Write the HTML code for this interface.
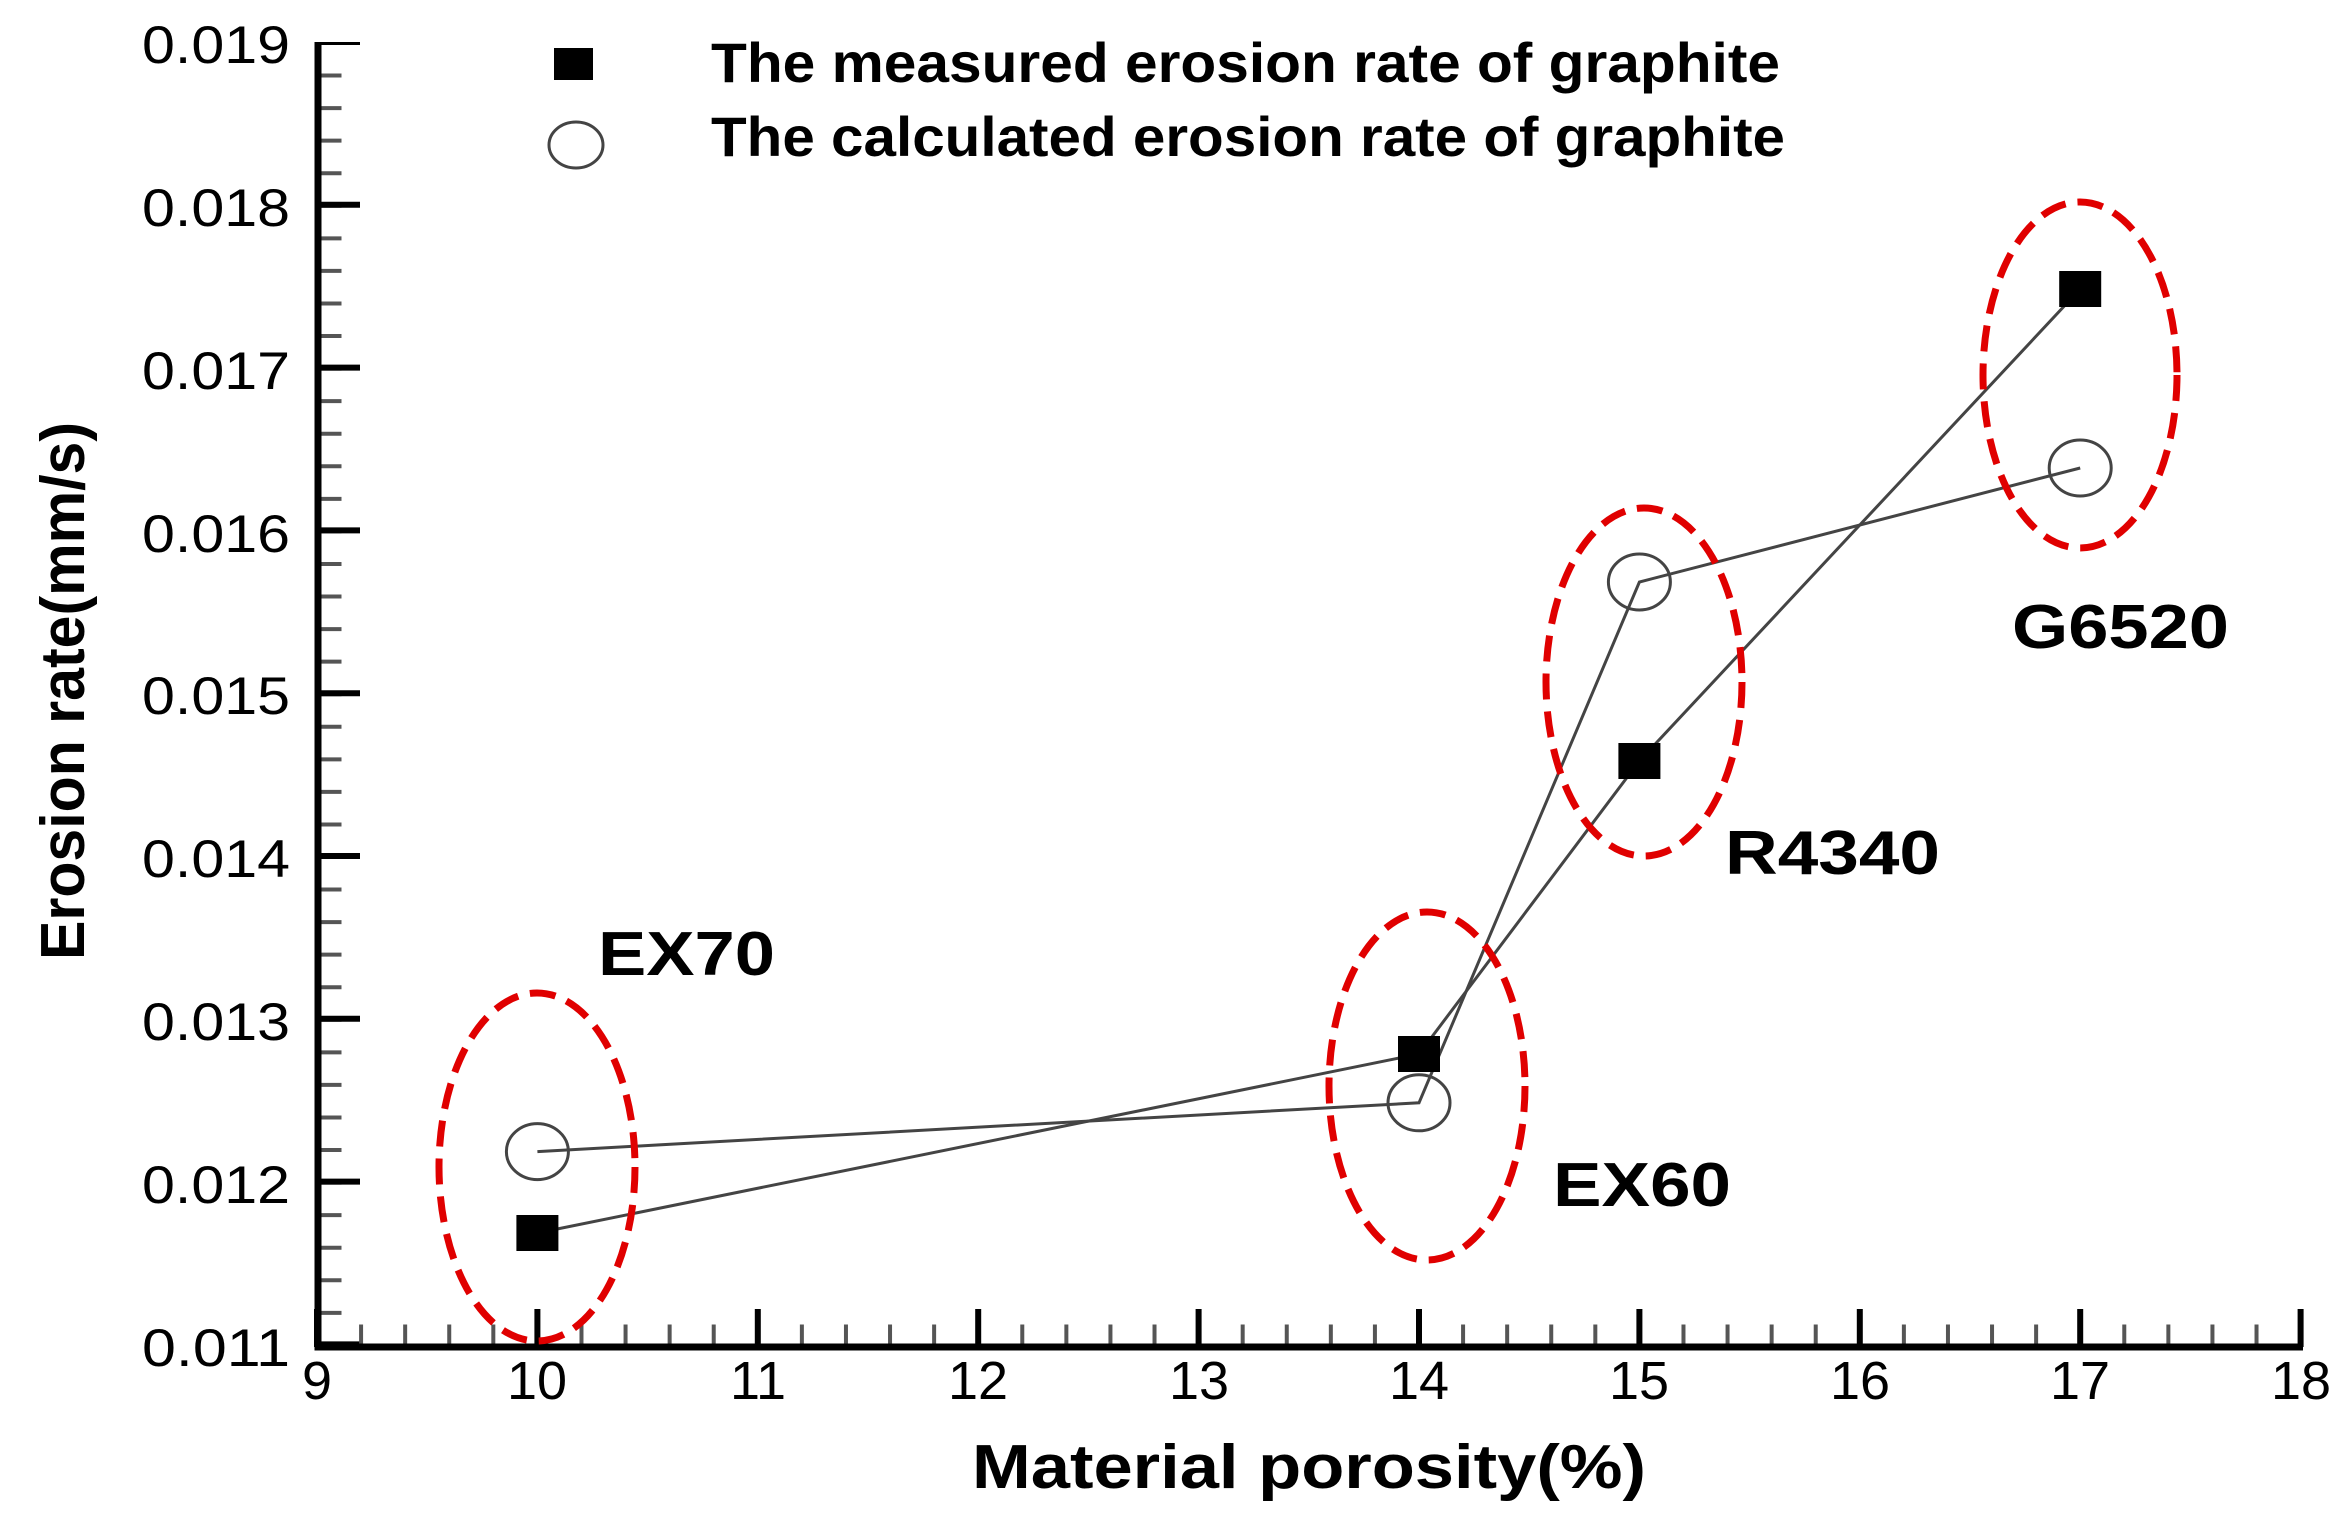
<!DOCTYPE html>
<html><head><meta charset="utf-8"><style>
html,body{margin:0;padding:0;background:#fff;}
svg{display:block;}
text{font-family:"Liberation Sans",Arial,sans-serif;}
</style></head><body>
<svg width="2346" height="1535" viewBox="0 0 2346 1535" xmlns="http://www.w3.org/2000/svg">
<rect width="2346" height="1535" fill="#fff"/>
<line x1="330" y1="43" x2="330" y2="1349" stroke="#555" stroke-width="23" stroke-dasharray="4 28.56" stroke-dashoffset="2"/>
<line x1="339" y1="42" x2="339" y2="1350" stroke="#000" stroke-width="42" stroke-dasharray="6 156.8" stroke-dashoffset="3"/>
<line x1="315" y1="1336" x2="2304" y2="1336" stroke="#555" stroke-width="23" stroke-dasharray="4 40.08" stroke-dashoffset="0"/>
<line x1="314" y1="1328" x2="2305" y2="1328" stroke="#000" stroke-width="38" stroke-dasharray="6 214.4" stroke-dashoffset="0"/>
<path d="M318 42 L318 1347 L2303 1347" fill="none" stroke="#000" stroke-width="7"/>

<g font-size="53" text-anchor="end" fill="#000">
<text x="290" y="63" textLength="148" lengthAdjust="spacingAndGlyphs">0.019</text>
<text x="290" y="226" textLength="148" lengthAdjust="spacingAndGlyphs">0.018</text>
<text x="290" y="389" textLength="148" lengthAdjust="spacingAndGlyphs">0.017</text>
<text x="290" y="552" textLength="148" lengthAdjust="spacingAndGlyphs">0.016</text>
<text x="290" y="714" textLength="148" lengthAdjust="spacingAndGlyphs">0.015</text>
<text x="290" y="877" textLength="148" lengthAdjust="spacingAndGlyphs">0.014</text>
<text x="290" y="1040" textLength="148" lengthAdjust="spacingAndGlyphs">0.013</text>
<text x="290" y="1203" textLength="148" lengthAdjust="spacingAndGlyphs">0.012</text>
<text x="290" y="1366" textLength="148" lengthAdjust="spacingAndGlyphs">0.011</text>
</g>
<g font-size="54" text-anchor="middle" fill="#000">
<text x="317" y="1399">9</text>
<text x="537" y="1399">10</text>
<text x="758" y="1399">11</text>
<text x="978" y="1399">12</text>
<text x="1199" y="1399">13</text>
<text x="1419" y="1399">14</text>
<text x="1639" y="1399">15</text>
<text x="1860" y="1399">16</text>
<text x="2080" y="1399">17</text>
<text x="2301" y="1399">18</text>
</g>

<text x="972" y="1488" font-size="62" font-weight="bold" textLength="674" lengthAdjust="spacingAndGlyphs">Material porosity(%)</text>
<text transform="translate(84,960) rotate(-90)" font-size="62" font-weight="bold" textLength="538" lengthAdjust="spacingAndGlyphs">Erosion rate(mm/s)</text>

<rect x="554" y="48" width="39" height="32" fill="#000"/>
<ellipse cx="576" cy="145" rx="27" ry="23" fill="none" stroke="#444" stroke-width="3"/>
<text x="711" y="82" font-size="56" font-weight="bold" textLength="1069" lengthAdjust="spacingAndGlyphs">The measured erosion rate of graphite</text>
<text x="711" y="156" font-size="56" font-weight="bold" textLength="1074" lengthAdjust="spacingAndGlyphs">The calculated erosion rate of graphite</text>

<polyline points="537.4,1233 1419,1054 1639.4,761 2080.2,289" fill="none" stroke="#444" stroke-width="3"/>
<polyline points="537.4,1151.6 1419,1102.8 1639.4,582 2080.2,468" fill="none" stroke="#444" stroke-width="3"/>

<g fill="none" stroke="#444" stroke-width="3">
<ellipse cx="537.4" cy="1151.6" rx="31" ry="28"/>
<ellipse cx="1419" cy="1102.8" rx="31" ry="28"/>
<ellipse cx="1639.4" cy="582" rx="31" ry="28"/>
<ellipse cx="2080.2" cy="468" rx="31" ry="28"/>
</g>
<g fill="#000">
<rect x="516.4" y="1215" width="42" height="36"/>
<rect x="1398" y="1036" width="42" height="36"/>
<rect x="1618.4" y="743" width="42" height="36"/>
<rect x="2059.2" y="271" width="42" height="36"/>
</g>

<g fill="none" stroke="#e00000" stroke-width="7" stroke-dasharray="26 12">
<ellipse cx="537" cy="1167" rx="98" ry="174"/>
<ellipse cx="1427" cy="1086" rx="98" ry="174"/>
<ellipse cx="1644" cy="682" rx="98" ry="174"/>
<ellipse cx="2080" cy="375" rx="97" ry="173"/>
</g>

<g font-size="62" font-weight="bold" fill="#000">
<text x="598" y="975" textLength="177" lengthAdjust="spacingAndGlyphs">EX70</text>
<text x="1553" y="1206" textLength="178" lengthAdjust="spacingAndGlyphs">EX60</text>
<text x="1725" y="874" textLength="215" lengthAdjust="spacingAndGlyphs">R4340</text>
<text x="2012" y="648" textLength="217" lengthAdjust="spacingAndGlyphs">G6520</text>
</g>
</svg>
</body></html>
